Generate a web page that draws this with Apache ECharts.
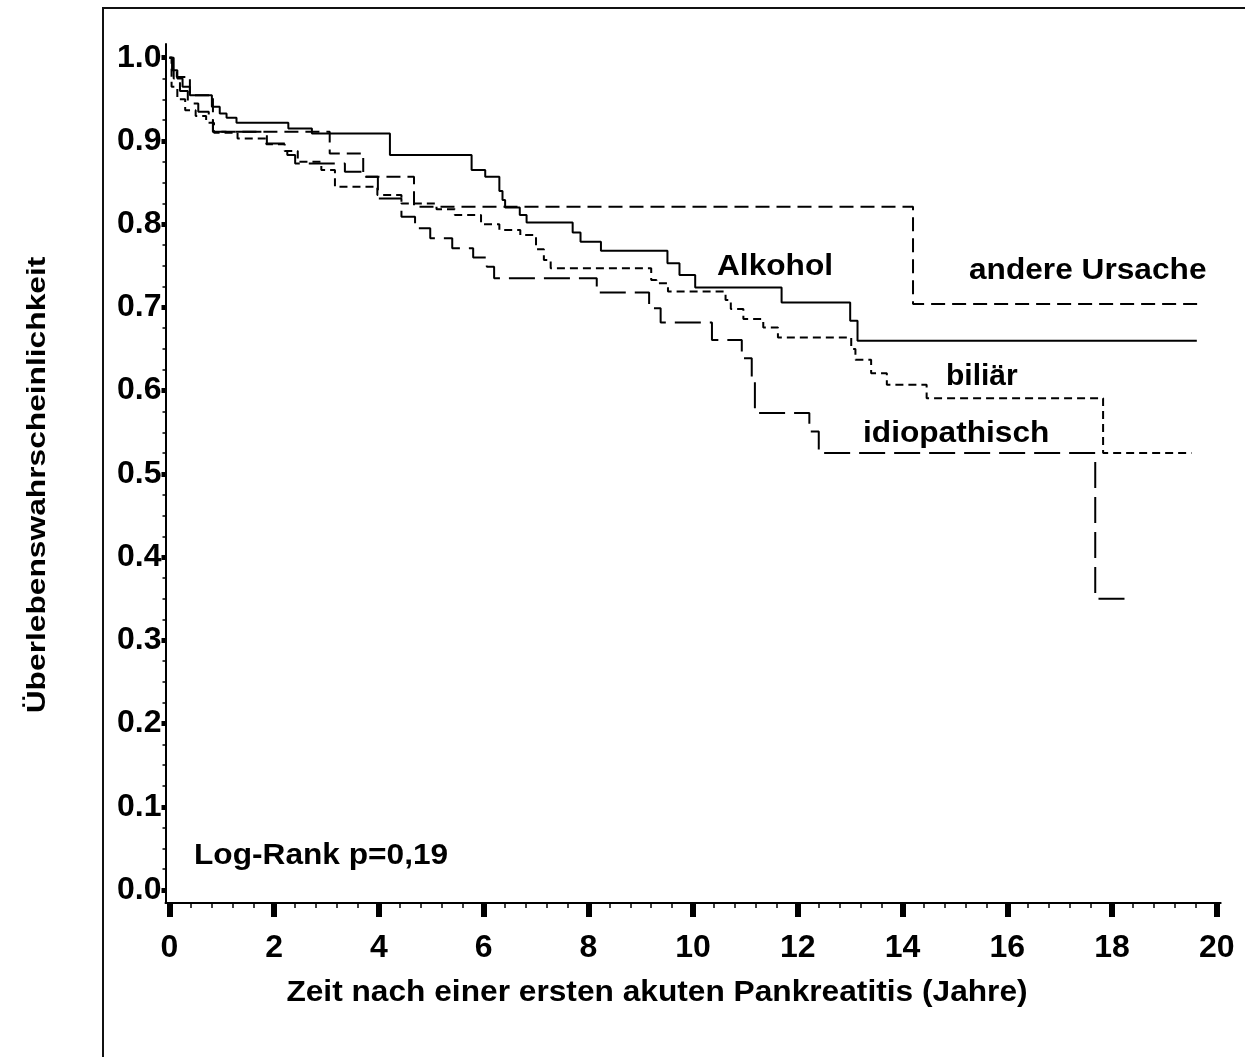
<!DOCTYPE html>
<html>
<head>
<meta charset="utf-8">
<title>Überlebenswahrscheinlichkeit nach akuter Pankreatitis</title>
<script src="https://cdn.jsdelivr.net/npm/echarts@6/dist/echarts.min.js"></script>
<style>
	html, body { margin: 0; padding: 0; background: #fff; }
	#chart { width: 1245px; height: 1057px; }
</style>
</head>
<body>
<div id="chart"></div>
<script>
	// tick values
	var xTicks = [0, 2, 4, 6, 8, 10, 12, 14, 16, 18, 20];
	var yTicks = [0.0, 0.1, 0.2, 0.3, 0.4, 0.5, 0.6, 0.7, 0.8, 0.9, 1.0];

	// Kaplan-Meier steps: at time x the curve falls to y
	var alkoholX = [0, 0.05, 0.15, 0.25, 0.39, 0.81, 0.96, 1.09, 1.28, 2.27, 2.72, 4.21, 5.77, 6.03, 6.30, 6.36, 6.41, 6.69, 6.82, 7.70, 7.85, 8.24, 9.51, 9.74, 10.04, 11.69, 13.00, 13.14, 19.62];
	var alkoholY = [1.000, 0.985, 0.975, 0.965, 0.955, 0.941, 0.933, 0.928, 0.922, 0.915, 0.909, 0.883, 0.865, 0.857, 0.840, 0.829, 0.820, 0.811, 0.802, 0.790, 0.779, 0.768, 0.753, 0.739, 0.724, 0.706, 0.684, 0.660, 0.660];

	var biliarX = [0, 0.04, 0.15, 0.30, 0.50, 0.70, 0.85, 1.30, 1.85, 2.20, 2.45, 2.90, 3.16, 3.97, 4.43, 5.10, 5.45, 5.95, 6.30, 6.70, 7.00, 7.15, 7.28, 9.20, 9.30, 9.52, 10.62, 10.72, 10.96, 11.34, 11.62, 13.02, 13.10, 13.40, 13.70, 14.46, 17.83, 19.52];
	var biliarY = [1.000, 0.965, 0.950, 0.937, 0.930, 0.922, 0.910, 0.903, 0.896, 0.888, 0.875, 0.865, 0.845, 0.835, 0.825, 0.818, 0.811, 0.800, 0.793, 0.787, 0.770, 0.757, 0.747, 0.733, 0.729, 0.719, 0.709, 0.698, 0.686, 0.676, 0.664, 0.650, 0.637, 0.621, 0.607, 0.591, 0.525, 0.525];

	var idioX = [0, 0.08, 0.20, 0.35, 0.55, 0.75, 0.83, 1.86, 2.25, 2.40, 3.35, 3.75, 3.98, 4.43, 4.69, 4.98, 5.40, 5.80, 6.06, 6.20, 8.16, 9.16, 9.38, 10.36, 10.93, 11.12, 11.18, 12.22, 12.40, 17.68, 18.38];
	var idioY = [1.000, 0.975, 0.960, 0.945, 0.935, 0.925, 0.911, 0.897, 0.883, 0.873, 0.863, 0.857, 0.831, 0.809, 0.795, 0.783, 0.771, 0.760, 0.749, 0.735, 0.718, 0.699, 0.682, 0.661, 0.639, 0.610, 0.573, 0.551, 0.525, 0.350, 0.350];

	var andereX = [0, 0.06, 0.14, 0.39, 0.83, 3.06, 3.70, 4.67, 14.20, 19.68];
	var andereY = [1.000, 0.985, 0.977, 0.955, 0.911, 0.885, 0.857, 0.821, 0.704, 0.704];

	// axis ends a little past 0 / 20 and 0.0 / 1.0, as in the original plot
	var X_MIN = -0.076, X_MAX = 20.076;
	var Y_MIN = -0.0156, Y_MAX = 1.0165;

	function zip(xs, ys) {
		return xs.map(function(x, i) { return [x, ys[i]]; });
	}

	function minorTicks(major, parts) {
		var out = [];
		for (var i = 0; i < major.length - 1; i++) {
			var step = (major[i + 1] - major[i]) / parts;
			for (var k = 1; k < parts; k++) {
				out.push(+(major[i] + k * step).toFixed(4));
			}
		}
		return out;
	}

	function kmSeries(name, data, dash) {
		return {
			name: name,
			type: 'line',
			step: 'end',
			symbol: 'none',
			silent: true,
			data: data,
			lineStyle: { color: '#000', width: 2, type: dash }
		};
	}

	var labelFont = { fontFamily: '"Liberation Sans", Arial, sans-serif', fontWeight: 'bold', fontSize: 32, color: '#000' };
	var txtFont = 'bold 30px "Liberation Sans", Arial, sans-serif';

	function label(text, x, y, sx) {
		return {
			type: 'text', x: x, y: y, scaleX: sx || 1.055, silent: true,
			style: { text: text, font: txtFont, fill: '#000', align: 'left', verticalAlign: 'middle', textAlign: 'left', textVerticalAlign: 'middle' }
		};
	}

	var chart = echarts.init(document.getElementById('chart'), null, { renderer: 'canvas' });

	var option = {
		animation: false,
		backgroundColor: '#fff',
		grid: { left: 165.5, right: 24.3, top: 44, bottom: 154, containLabel: false },
		xAxis: [{
			type: 'value', position: 'bottom', min: X_MIN, max: X_MAX,
			axisLine: { onZero: false, lineStyle: { color: '#000', width: 2 } },
			axisTick: { customValues: xTicks, length: 14, lineStyle: { color: '#000', width: 6 } },
			axisLabel: Object.assign({ customValues: xTicks, margin: 29 }, labelFont),
			splitLine: { show: false }
		}, {
			type: 'value', position: 'bottom', min: X_MIN, max: X_MAX,
			axisLine: { show: false, onZero: false },
			axisTick: { customValues: minorTicks(xTicks, 5), length: 5, lineStyle: { color: '#000', width: 1.5 } },
			axisLabel: { show: false },
			splitLine: { show: false }
		}],
		yAxis: [{
			type: 'value', position: 'left', min: Y_MIN, max: Y_MAX,
			axisLine: { onZero: false, lineStyle: { color: '#000', width: 2 } },
			axisTick: { customValues: yTicks, length: 4, lineStyle: { color: '#000', width: 5 } },
			axisLabel: Object.assign({
				customValues: yTicks, margin: 4,
				formatter: function(v) { return v.toFixed(1); }
			}, labelFont),
			splitLine: { show: false }
		}, {
			type: 'value', position: 'left', min: Y_MIN, max: Y_MAX,
			axisLine: { show: false, onZero: false },
			axisTick: { customValues: minorTicks(yTicks, 4), length: 3, lineStyle: { color: '#000', width: 1.5 } },
			axisLabel: { show: false },
			splitLine: { show: false }
		}],
		series: [
			kmSeries('Alkohol', zip(alkoholX, alkoholY), 'solid'),
			kmSeries('biliär', zip(biliarX, biliarY), [8, 5]),
			kmSeries('idiopathisch', zip(idioX, idioY), [26, 9]),
			kmSeries('andere Ursache', zip(andereX, andereY), [14, 7])
		],
		graphic: [
			{
				type: 'rect', silent: true,
				shape: { x: 103, y: 8, width: 1300, height: 1200 },
				style: { fill: 'none', stroke: '#111', lineWidth: 2 }
			},
			label('Alkohol', 717, 267),
			label('andere Ursache', 969, 271),
			label('biliär', 946, 377, 1.0),
			label('idiopathisch', 863, 434),
			label('Log-Rank p=0,19', 194, 856),
			{
				type: 'text', x: 657, y: 993, scaleX: 1.056, silent: true,
				style: { text: 'Zeit nach einer ersten akuten Pankreatitis (Jahre)', font: txtFont, fill: '#000', align: 'center', verticalAlign: 'middle', textAlign: 'center', textVerticalAlign: 'middle' }
			},
			{
				type: 'text', x: 38, y: 485, rotation: Math.PI / 2, scaleX: 1.22, silent: true,
				style: { text: 'Überlebenswahrscheinlichkeit', font: 'bold 26px "Liberation Sans", Arial, sans-serif', fill: '#000', align: 'center', verticalAlign: 'middle', textAlign: 'center', textVerticalAlign: 'middle' }
			}
		]
	};

	chart.setOption(option);
</script>
</body>
</html>
